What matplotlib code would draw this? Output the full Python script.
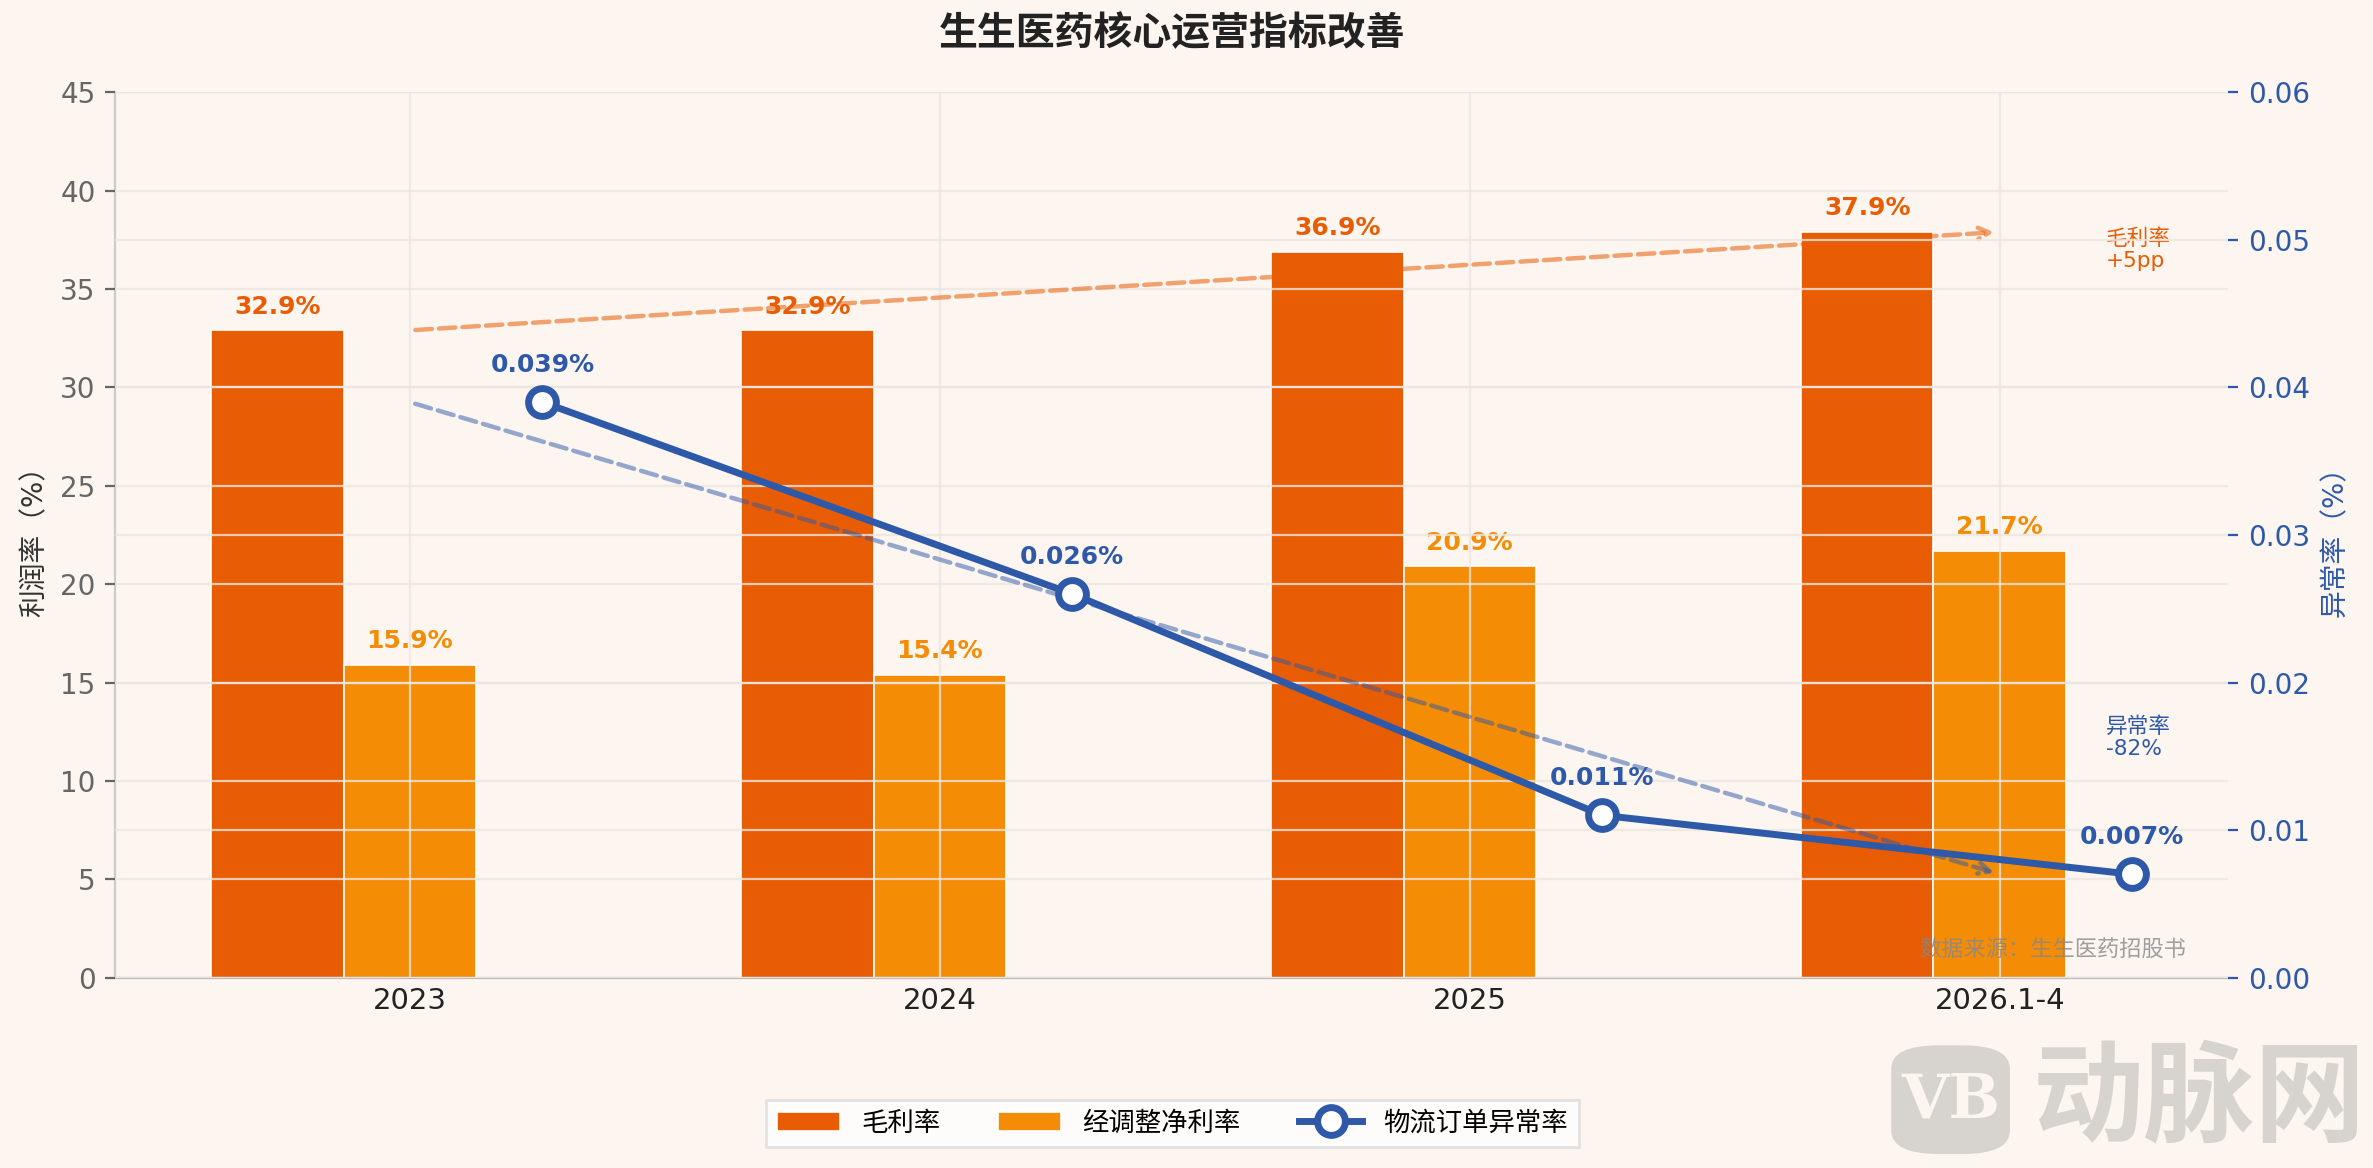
import matplotlib
matplotlib.use('Agg')
import matplotlib.pyplot as plt
import numpy as np
from matplotlib.patches import FancyBboxPatch

plt.rcParams['font.family'] = ['DejaVu Sans', 'Noto Sans CJK SC']
plt.rcParams['axes.unicode_minus'] = False

# 数据
years = ['2023', '2024', '2025', '2026.1-4']
gross_margin = [32.9, 32.9, 36.9, 37.9]
adj_net_margin = [15.9, 15.4, 20.9, 21.7]
abnormal_rate = [0.039, 0.026, 0.011, 0.007]

c_gross = '#E85D04'
c_net = '#F48C06'
c_line = '#2E59A8'
bg = '#FCF5F0'
grid_c = '#ECE6E1'

fig = plt.figure(figsize=(11.865, 5.84), dpi=200, facecolor=bg)
ax = fig.add_axes([0.0485, 0.163, 0.8905, 0.758])
ax.set_facecolor(bg)
ax2 = ax.twinx()

x = np.arange(len(years))
w = 0.25

b1 = ax.bar(x - w, gross_margin, w, color=c_gross, edgecolor='white', linewidth=0.6, label='毛利率', zorder=1)
b2 = ax.bar(x, adj_net_margin, w, color=c_net, edgecolor='white', linewidth=0.6, label='经调整净利率', zorder=1)

for xi, v in zip(x - w, gross_margin):
    ax.text(xi, v + 0.6, f'{v}%', ha='center', va='bottom', color=c_gross, fontsize=9, fontweight='bold')
for xi, v in zip(x, adj_net_margin):
    ax.text(xi, v + 0.6, f'{v}%', ha='center', va='bottom', color=c_net, fontsize=9, fontweight='bold')

ln, = ax2.plot(x + w, abnormal_rate, color=c_line, lw=2.5, marker='o', ms=10,
               mfc='white', mec=c_line, mew=2.5, label='物流订单异常率', zorder=5)
for xi, v in zip(x + w, abnormal_rate):
    ax2.text(xi, v + 0.0017, f'{v:.3f}%', ha='center', va='bottom', color=c_line, fontsize=9, fontweight='bold')

# 趋势箭头
ax.annotate('', xy=(x[-1], gross_margin[-1]), xytext=(x[0], gross_margin[0]),
            arrowprops=dict(arrowstyle='->', color=c_gross, alpha=0.55, lw=1.6, linestyle='--'))
ax2.annotate('', xy=(x[-1], abnormal_rate[-1]), xytext=(x[0], abnormal_rate[0]),
             arrowprops=dict(arrowstyle='->', color=c_line, alpha=0.5, lw=1.6, linestyle='--'))
ax.text(3.2, 37.0, '毛利率\n+5pp', color=c_gross, fontsize=7.8, ha='left', va='center', linespacing=1.1)
ax.text(3.2, 12.2, '异常率\n-82%', color=c_line, fontsize=7.8, ha='left', va='center', linespacing=1.1)

ax.set_ylim(0, 45)
ax.set_yticks(np.arange(0, 46, 5))
ax2.set_ylim(0, 0.06)
ax.set_xticks(x)
ax.set_xticklabels(years, fontsize=10.5)
ax.set_ylabel('利润率（%）', fontsize=10, color='#333333')
ax2.set_ylabel('异常率（%）', fontsize=10, color=c_line)
ax.tick_params(axis='y', colors='#666666', labelsize=10)
ax.tick_params(axis='x', colors='#222222', length=0)
ax2.tick_params(axis='y', colors=c_line, labelsize=10)
ax.set_axisbelow(False)
ax.grid(True, color=grid_c, lw=0.8, alpha=0.8, zorder=2)
ax2.grid(True, axis='y', color=grid_c, lw=0.8, alpha=0.8)

for s in ['top', 'right']:
    ax.spines[s].set_visible(False)
for s in ['top', 'right', 'left', 'bottom']:
    ax2.spines[s].set_visible(False)
ax.spines['left'].set_color('#cccccc')
ax.spines['bottom'].set_color('#bbbbbb')

ax.text(0.98, 0.018, '数据来源：生生医药招股书', transform=ax.transAxes, ha='right', va='bottom',
        fontsize=8, color='#888888', alpha=0.8, family=['Noto Sans CJK SC'])

fig.suptitle('生生医药核心运营指标改善', fontsize=14, fontweight='bold', x=0.494, y=0.988,
             family=['Noto Sans CJK SC'], color='#222222')

fig.legend(handles=[b1, b2, ln], loc='center', bbox_to_anchor=(0.494, 0.038), ncol=3,
           fontsize=9.5, frameon=True, facecolor='white', edgecolor='#dddddd',
           fancybox=False, handlelength=2.4, columnspacing=2.2)

# 水印
wm = '#D7D3CF'
box = FancyBboxPatch((0.801, 0.016), 0.042, 0.085, boxstyle='round,pad=0.004,rounding_size=0.02',
                     transform=fig.transFigure, facecolor=wm, edgecolor='none')
fig.patches.append(box)
fig.text(0.822, 0.058, 'VB', ha='center', va='center', fontsize=22, fontweight='bold',
         color=bg, family=['DejaVu Serif'])
fig.text(0.927, 0.058, '动脉网', ha='center', va='center', fontsize=40, fontweight='bold',
         color=wm, family=['Noto Sans CJK SC'])

fig.savefig('out.png', dpi=200, facecolor=bg)
